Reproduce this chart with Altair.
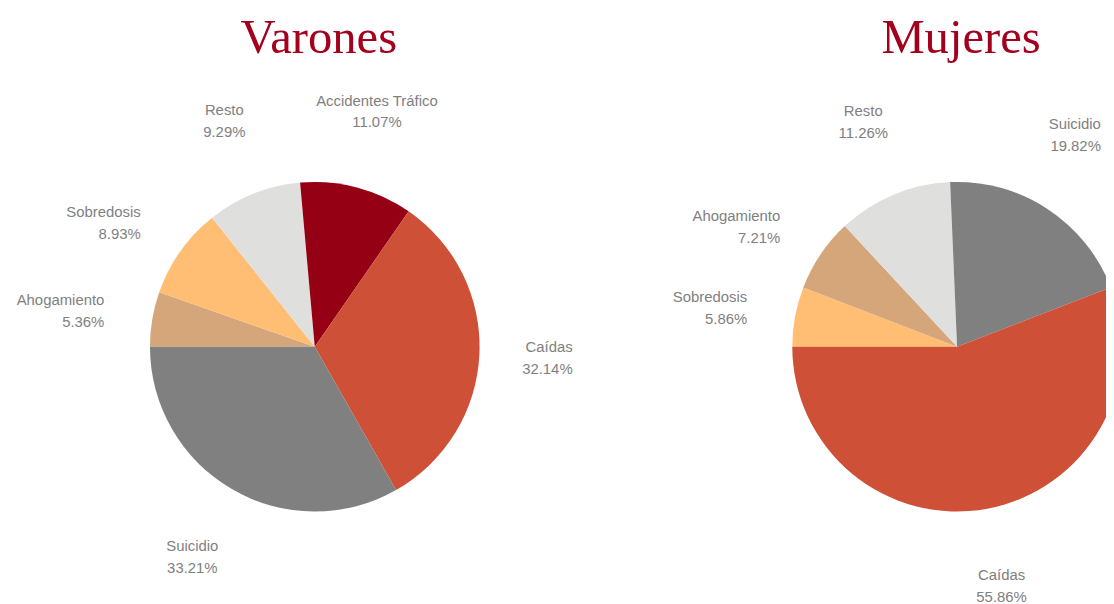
import math
import altair as alt
import pandas as pd

# ---- data ----
sexos = ["Varones", "Mujeres"]

varones_causas = ["Ahogamiento", "Sobredosis", "Resto", "Accidentes Tráfico", "Caídas", "Suicidio"]
varones_pct = [5.36, 8.93, 9.29, 11.07, 32.14, 33.21]

mujeres_causas = ["Sobredosis", "Ahogamiento", "Resto", "Suicidio", "Caídas"]
mujeres_pct = [5.86, 7.21, 11.26, 19.82, 55.86]

causas = ["Ahogamiento", "Sobredosis", "Resto", "Accidentes Tráfico", "Caídas", "Suicidio"]
colores = ["#D4A679", "#FFBE73", "#DFE0DE", "#950015", "#CE5036", "#808080"]

rows = []
for sexo, cs, ps in [("Varones", varones_causas, varones_pct), ("Mujeres", mujeres_causas, mujeres_pct)]:
    for i, (c, p) in enumerate(zip(cs, ps)):
        rows.append({"sexo": sexo, "causa": c, "valor": p, "orden": i,
                     "etiqueta": f"{c}\n{p:.2f}%"})
df = pd.DataFrame(rows)
titulos = pd.DataFrame({"sexo": sexos})

x_enc = alt.X("sexo:N", scale=alt.Scale(type="point", padding=0, domain=sexos, range=[309, 956]), axis=None)
theta_scale = alt.Scale(domain=[0, 1], range=[-math.pi / 2, 3 * math.pi / 2])

base = alt.Chart(df).transform_joinaggregate(
    total="sum(valor)", groupby=["sexo"]
).transform_window(
    cum="sum(valor)", groupby=["sexo"], sort=[alt.SortField("orden")], frame=[None, 0]
).transform_calculate(
    ini="(datum.cum - datum.valor) / datum.total",
    fin="datum.cum / datum.total",
    mid="(2 * datum.cum - datum.valor) / (2 * datum.total)",
).transform_calculate(
    s="sin(-PI / 2 + 2 * PI * datum.mid)",
)

arcs = base.mark_arc(outerRadius=166, strokeWidth=0).encode(
    x=x_enc,
    y=alt.value(339),
    theta=alt.Theta("ini:Q", scale=theta_scale),
    theta2="fin:Q",
    color=alt.Color("causa:N", scale=alt.Scale(domain=causas, range=colores), legend=None),
)

txt_style = dict(font="Liberation Sans", fontSize=15, color="#7F7F7F",
                 lineBreak="\n", lineHeight=22, baseline="middle", dy=-11)


def label_layer(cond, align, radius, dx=0):
    return base.transform_filter(cond).mark_text(align=align, radius=radius, dx=dx, **txt_style).encode(
        x=x_enc,
        y=alt.value(339),
        theta=alt.Theta("mid:Q", scale=theta_scale),
        text="etiqueta:N",
    )


labels_left = label_layer("datum.s < -0.6", "right", 215)
labels_right = label_layer("datum.s > 0.5", "right", 255, dx=5)
labels_mid = label_layer("datum.s >= -0.6 && datum.s <= 0.5", "center", 245)

titles = alt.Chart(titulos).mark_text(
    font="Liberation Serif", fontSize=49, color="#A3001E", baseline="alphabetic", align="center", dx=4,
).encode(
    x=x_enc,
    y=alt.value(43),
    text="sexo:N",
)

chart = alt.layer(arcs, labels_left, labels_right, labels_mid, titles).properties(
    width=1106, height=596,
    autosize=alt.AutoSizeParams(type="none"),
    padding=0,
).configure_view(stroke=None)

chart.save("out.html", embed_options={"renderer": "svg", "actions": False})
